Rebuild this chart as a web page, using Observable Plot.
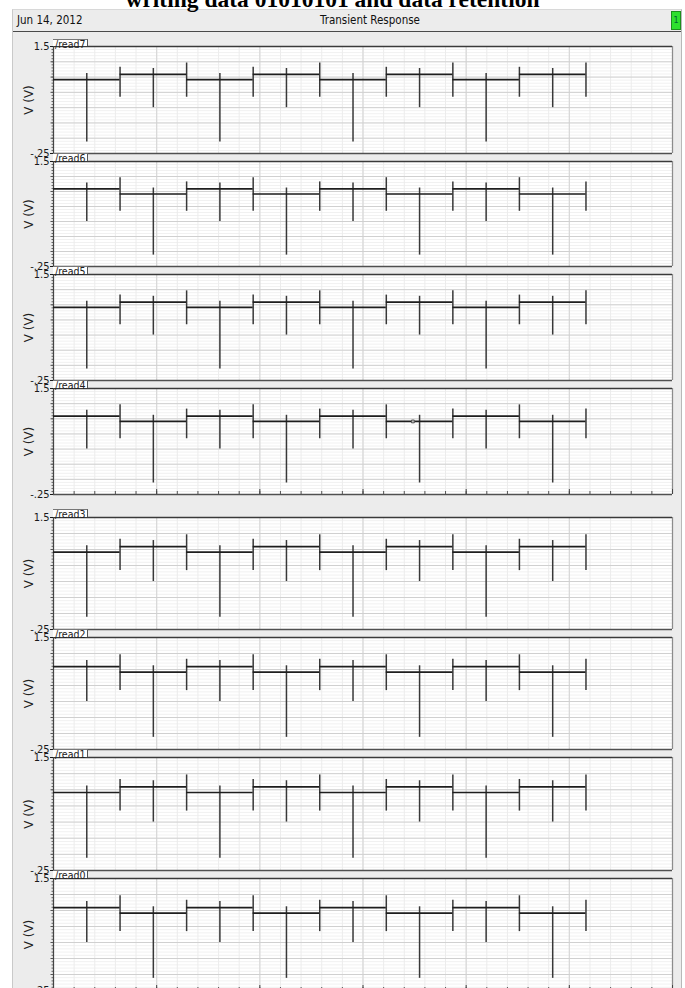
<!DOCTYPE html>
<html><head><meta charset="utf-8">
<script src="https://cdn.jsdelivr.net/npm/d3@7"></script>
<script src="https://cdn.jsdelivr.net/npm/@observablehq/plot@0.6"></script>
<style>
html,body{margin:0;padding:0;}
body{width:685px;height:988px;overflow:hidden;position:relative;background:#fff;
  font-family:"Liberation Sans Narrow","DejaVu Sans Condensed","DejaVu Sans",sans-serif;}
#outer{position:absolute;left:12px;top:9px;width:668px;height:990px;background:#ececec;
  border-left:1px solid #c9c9c9;border-right:1px solid #b8b8b8;border-top:1px solid #d8d8d8;}
#title{position:absolute;left:0;top:-12px;width:665px;text-align:center;white-space:nowrap;
  font:bold 23.5px/23.5px "Liberation Serif","Times New Roman",serif;color:#000;z-index:1;}
#hdrline{position:absolute;left:13px;top:31px;width:668px;height:0;border-top:1.5px solid #4a4a4a;}
.hdr{position:absolute;font-size:11.5px;color:#111;white-space:nowrap;line-height:12px;}
#green{position:absolute;left:671px;top:11px;width:8px;height:17px;background:#2ee02e;border:1px solid #1d8f1d;
  font-size:9px;line-height:17px;text-align:center;color:#063;}
.tab{position:absolute;left:53px;width:32px;background:#fff;border-top:1px solid #777;border-right:1px solid #555;
  font-size:10.5px;line-height:9px;color:#222;padding-left:2px;white-space:nowrap;overflow:visible;z-index:3;}
svg{position:absolute;left:0;}
</style>
</head><body>
<div id="outer"></div>
<div id="title">writing data 01010101 and data retention</div>
<div class="hdr" style="left:17px;top:14px;">Jun 14, 2012</div>
<div class="hdr" style="left:300px;width:140px;text-align:center;top:14px;">Transient Response</div>
<div id="green">1</div>
<div id="hdrline"></div>
<script>
// ---------- data ----------
const signals = ["read7","read6","read5","read4","read3","read2","read1","read0"];
// A = starts at the low level, B = starts at the high level
const signalPattern = ["A","B","A","B","A","B","A","B"];
const segStart = [0,2,4,6,8,10,12,14];
const segEnd   = [2,4,6,8,10,12,14,16];
const levelsA = [0.958,1.045,0.958,1.045,0.958,1.045,0.958,1.045];
const levelsB = [1.045,0.958,1.045,0.958,1.045,0.958,1.045,0.958];
const spikeT = [1,2,3,4,5,6,7,8,9,10,11,12,13,14,15,16];
const spikeTopA = [1.058,1.16,1.14,1.23, 1.058,1.16,1.14,1.23, 1.058,1.16,1.14,1.23, 1.058,1.16,1.14,1.23];
const spikeBotA = [-0.06,0.67,0.50,0.67, -0.06,0.67,0.50,0.67, -0.06,0.67,0.50,0.67, -0.06,0.67,0.50,0.67];
const spikeTopB = [1.14,1.23,1.058,1.16, 1.14,1.23,1.058,1.16, 1.14,1.23,1.058,1.16, 1.14,1.23,1.058,1.16];
const spikeBotB = [0.50,0.67,-0.06,0.67, 0.50,0.67,-0.06,0.67, 0.50,0.67,-0.06,0.67, 0.50,0.67,-0.06,0.67];
const markerSignal = ["read4"];
const markerT = [10.8];
const markerV = [0.956];
const yTickValues = [1.5, -0.25];
const yTickLabels = ["1.5", "-.25"];
const axisTitle = "V (V)";
const xDomain = [0, 18.6];
const yDomain = [-0.25, 1.5];

// ---------- layout ----------
const plotTops    = [46, 161, 274, 388, 517, 637, 757, 878];
const plotHeights = [107, 105, 106, 106, 112, 112, 113, 112];
const tabHeights  = [7, 8, 8, 8, 8, 8, 8, 8];
const xAxisPanels = ["read4", "read0"];

const xMinor = d3.range(0, 18.6 + 1e-6, 0.62);
const xMajor = d3.range(0, 18.6 + 1e-6, 3.1);
const yMinor = d3.range(-0.25, 1.5 + 1e-6, 0.05);
const yMajor = d3.range(-0.25, 1.5 + 1e-6, 0.25);

signals.forEach((name, i) => {
  const pat = signalPattern[i];
  const levels = pat === "A" ? levelsA : levelsB;
  const tops = pat === "A" ? spikeTopA : spikeTopB;
  const bots = pat === "A" ? spikeBotA : spikeBotB;
  const segs = segStart.map((s, k) => ({x1: s, x2: segEnd[k], v: levels[k]}));
  const spikes = spikeT.map((t, k) => ({t, top: tops[k], bottom: bots[k]}));
  const markers = markerSignal.map((m, k) => ({m, t: markerT[k], v: markerV[k]})).filter(d => d.m === name);
  const h = plotHeights[i];
  const mt = 12, mb = 12;
  const marks = [
    Plot.frame({fill: "white", stroke: null}),
    Plot.ruleY(yMinor, {stroke: "#f1f1f1", strokeWidth: 1}),
    Plot.ruleX(xMinor, {stroke: "#ececec", strokeWidth: 1}),
    Plot.ruleX(xMajor, {stroke: "#d8d8d8", strokeWidth: 1.2}),
    Plot.ruleY(yMajor, {stroke: "#d0d0d0", strokeWidth: 1}),
    Plot.ruleX([xDomain[1]], {stroke: "#8c8c8c", strokeWidth: 1.2}),
    Plot.ruleY([yDomain[1]], {stroke: "#3a3a3a", strokeWidth: 1.3}),
    Plot.ruleY([yDomain[0]], {stroke: "#505050", strokeWidth: 1.3}),
    Plot.ruleX([xDomain[0]], {stroke: "#444", strokeWidth: 1.2}),
    Plot.ruleX(spikes, {x: "t", y1: "bottom", y2: "top", stroke: "#383838", strokeWidth: 1.5}),
    Plot.ruleY(segs, {x1: "x1", x2: "x2", y: "v", stroke: "#1e1e1e", strokeWidth: 1.7}),
    Plot.dot(markers, {x: "t", y: "v", symbol: "square", r: 1.6, stroke: "#555", fill: "#bbb", strokeWidth: 1}),
    Plot.axisY(yMinor, {tickSize: 1.5, tickFormat: () => "", stroke: "#666", label: null}),
    Plot.axisY(yMajor, {tickSize: 2.5, tickFormat: () => "", stroke: "#555", label: null}),
    Plot.axisY(yTickValues, {tickSize: 3, tickPadding: 1, tickFormat: (d) => yTickLabels[yTickValues.indexOf(d)], fontSize: 11, fill: "#1a1a1a", label: null}),
    Plot.text([axisTitle], {frameAnchor: "left", dx: -24, rotate: -90, textAnchor: "middle", lineAnchor: "middle",
      fontSize: 12, fill: "#222", fontFamily: "DejaVu Sans", text: d => d})
  ];
  if (xAxisPanels.includes(name)) {
    marks.push(Plot.ruleX(xMinor, {insetTop: h - 3, stroke: "#555"}));
    marks.push(Plot.ruleX(xMajor, {insetTop: h - 5, stroke: "#444"}));
  }
  const chart = Plot.plot({
    width: 685, height: h + mt + mb,
    marginLeft: 53, marginRight: 13, marginTop: mt, marginBottom: mb,
    x: {domain: xDomain, axis: null},
    y: {domain: yDomain, axis: null},
    style: {background: "none", overflow: "visible", fontFamily: "'Liberation Sans Narrow','DejaVu Sans Condensed',sans-serif", color: "#1a1a1a"},
    marks
  });
  chart.style.position = "absolute";
  chart.style.left = "0px";
  chart.style.top = (plotTops[i] - mt) + "px";
  chart.style.zIndex = 2;
  document.body.appendChild(chart);

  const tab = document.createElement("div");
  tab.className = "tab";
  tab.style.top = (plotTops[i] - tabHeights[i]) + "px";
  tab.style.height = (tabHeights[i] - 1) + "px";
  tab.textContent = "/" + name;
  document.body.appendChild(tab);
});
</script>
</body></html>
